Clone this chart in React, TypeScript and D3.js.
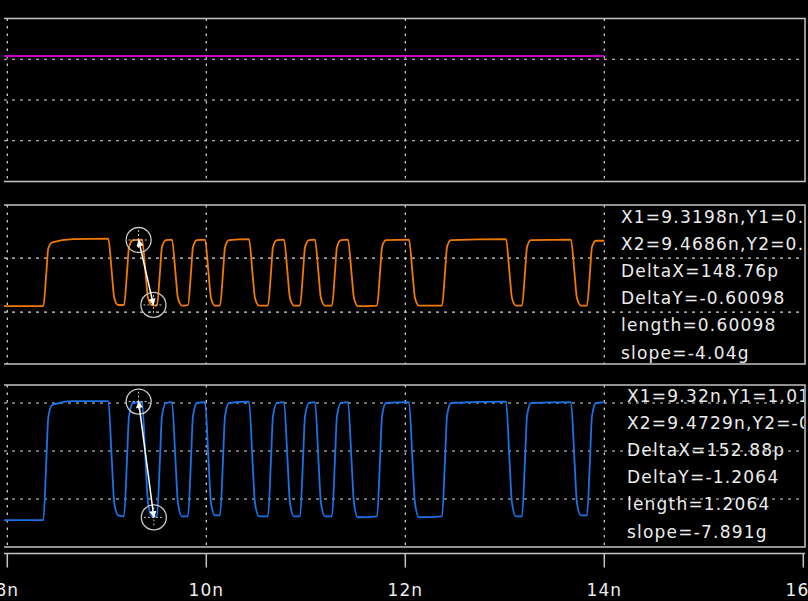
import React, { useEffect, useRef } from 'react';
import * as d3 from 'd3';

// simulation samples (ns) shared by the two traces
const timeNs = [
  7.967,
  8.362, 8.392, 8.412, 8.452, 8.66,
  9.015, 9.05, 9.075, 9.115,
  9.173, 9.203, 9.223, 9.263,
  9.354, 9.389, 9.414, 9.454,
  9.504, 9.534, 9.554, 9.594,
  9.655, 9.69, 9.715, 9.755,
  9.816, 9.846, 9.866, 9.906,
  9.987, 10.022, 10.047, 10.087,
  10.138, 10.168, 10.188, 10.228,
  10.429, 10.464, 10.489, 10.529,
  10.62, 10.65, 10.67, 10.71,
  10.781, 10.816, 10.841, 10.881,
  10.942, 10.972, 10.992, 11.032,
  11.092, 11.127, 11.152, 11.192,
  11.263, 11.293, 11.313, 11.353,
  11.424, 11.459, 11.484, 11.524,
  11.716, 11.746, 11.766, 11.806,
  12.037, 12.072, 12.097, 12.137,
  12.369, 12.399, 12.419, 12.459,
  13.012, 13.047, 13.072, 13.112,
  13.173, 13.203, 13.223, 13.263,
  13.665, 13.7, 13.725, 13.765,
  13.826, 13.856, 13.876, 13.916,
  14.0,
];

// orange trace (middle panel)
const midTrace = [
  0.055,
  0.055, 0.36, 0.59, 0.645, 0.675,
  0.68, 0.37, 0.13, 0.065,
  0.065, 0.365, 0.6, 0.665,
  0.67, 0.365, 0.13, 0.065,
  0.06, 0.365, 0.6, 0.665,
  0.67, 0.365, 0.13, 0.06,
  0.065, 0.365, 0.6, 0.665,
  0.67, 0.365, 0.13, 0.06,
  0.06, 0.365, 0.6, 0.665,
  0.675, 0.365, 0.13, 0.06,
  0.06, 0.365, 0.6, 0.665,
  0.67, 0.365, 0.13, 0.06,
  0.06, 0.365, 0.6, 0.665,
  0.67, 0.365, 0.13, 0.06,
  0.06, 0.365, 0.6, 0.665,
  0.67, 0.365, 0.13, 0.055,
  0.06, 0.365, 0.6, 0.665,
  0.67, 0.365, 0.13, 0.06,
  0.06, 0.365, 0.6, 0.665,
  0.675, 0.365, 0.13, 0.06,
  0.06, 0.365, 0.6, 0.665,
  0.67, 0.365, 0.13, 0.06,
  0.06, 0.365, 0.6, 0.66,
  0.66,
];

// blue trace (bottom panel)
const lowTrace = [
  -0.22,
  -0.22, 0.4, 0.85, 0.98, 1.02,
  1.02, 0.41, -0.04, -0.17,
  -0.18, 0.41, 0.86, 1.0,
  1.01, 0.41, -0.04, -0.18,
  -0.18, 0.41, 0.86, 1.0,
  1.01, 0.41, -0.04, -0.18,
  -0.18, 0.41, 0.86, 1.0,
  1.01, 0.41, -0.04, -0.17,
  -0.17, 0.41, 0.86, 1.0,
  1.015, 0.41, -0.04, -0.18,
  -0.18, 0.41, 0.86, 1.0,
  1.01, 0.41, -0.04, -0.18,
  -0.18, 0.41, 0.86, 1.0,
  1.01, 0.41, -0.04, -0.18,
  -0.18, 0.41, 0.86, 1.0,
  1.01, 0.41, -0.04, -0.19,
  -0.18, 0.41, 0.86, 1.0,
  1.01, 0.41, -0.04, -0.19,
  -0.18, 0.41, 0.86, 1.0,
  1.015, 0.41, -0.04, -0.18,
  -0.18, 0.41, 0.86, 1.0,
  1.01, 0.41, -0.04, -0.17,
  -0.17, 0.41, 0.86, 1.0,
  1.01,
];

// magenta trace (top panel)
const supplyTime = [7.967, 14.0];
const supplyTrace = [1.04, 1.04];

const xTicks = [8, 10, 12, 14, 16];
const xTickLabels = ['8n', '10n', '12n', '14n', '16n'];

// cursor pairs
const midCursorX = [9.3198, 9.4686];
const midCursorY = [0.66693, 0.06595];
const lowCursorX = [9.32, 9.4729];
const lowCursorY = [1.0148, -0.1916];

const midReadout = ['X1=9.3198n,Y1=0.66693', 'X2=9.4686n,Y2=0.06595', 'DeltaX=148.76p', 'DeltaY=-0.60098', 'length=0.60098', 'slope=-4.04g'];
const lowReadout = ['X1=9.32n,Y1=1.0148', 'X2=9.4729n,Y2=-0.1916', 'DeltaX=152.88p', 'DeltaY=-1.2064', 'length=1.2064', 'slope=-7.891g'];

const W = 808;
const H = 601;
const LEFT = 4;
const RIGHT = 805;
const FONT = '"DejaVu Sans", sans-serif';

const App: React.FC = () => {
  const svgRef = useRef<SVGSVGElement>(null);

  useEffect(() => {
    if (!svgRef.current) return;
    const svg = d3.select(svgRef.current);
    svg.selectAll('*').remove();

    const x = d3.scaleLinear().domain([8, 16]).range([7.3, 803.3]);

    const defs = svg.append('defs');
    defs.append('marker')
      .attr('id', 'arrow')
      .attr('viewBox', '0 0 10 10')
      .attr('refX', 9)
      .attr('refY', 5)
      .attr('markerWidth', 9)
      .attr('markerHeight', 7)
      .attr('markerUnits', 'userSpaceOnUse')
      .attr('orient', 'auto-start-reverse')
      .append('path')
      .attr('d', 'M0,0L10,5L0,10z')
      .attr('fill', '#ffffff');

    const panels = [
      { id: 'top', top: 18.5, bottom: 181.5, domain: [-0.5, 1.5], grid: [0, 0.5, 1], t: supplyTime, v: supplyTrace, color: '#c400c4', cx: null, cy: null, text: null, textX: 0, textY: 0 },
      { id: 'mid', top: 205, bottom: 364, domain: [-0.481, 0.991], grid: [0, 0.5], t: timeNs, v: midTrace, color: '#f07a00', cx: midCursorX, cy: midCursorY, text: midReadout, textX: 621, textY: 222.5 },
      { id: 'low', top: 385, bottom: 547, domain: [-0.5, 1.1875], grid: [0, 0.5, 1], t: timeNs, v: lowTrace, color: '#1a72e6', cx: lowCursorX, cy: lowCursorY, text: lowReadout, textX: 627, textY: 401.5 },
    ];

    panels.forEach(p => {
      const y = d3.scaleLinear().domain(p.domain).range([p.bottom, p.top]);

      defs.append('clipPath').attr('id', `clip-${p.id}`)
        .append('rect')
        .attr('x', LEFT).attr('y', p.top)
        .attr('width', RIGHT - LEFT - 1).attr('height', p.bottom - p.top);

      const g = svg.append('g').attr('clip-path', `url(#clip-${p.id})`);

      // grid
      g.selectAll('.vgrid')
        .data(xTicks.slice(0, 4))
        .enter().append('line')
        .attr('x1', d => x(d)).attr('x2', d => x(d))
        .attr('y1', p.top).attr('y2', p.bottom)
        .attr('stroke', '#dcdcdc').attr('stroke-width', 1.2)
        .attr('stroke-dasharray', '2.5,5');
      g.selectAll('.hgrid')
        .data(p.grid)
        .enter().append('line')
        .attr('x1', LEFT).attr('x2', RIGHT)
        .attr('y1', d => y(d)).attr('y2', d => y(d))
        .attr('stroke', '#dcdcdc').attr('stroke-width', 1.2)
        .attr('stroke-dasharray', '3,5');

      // trace
      const pts = p.t.map((t, i) => [t, p.v[i]] as [number, number]);
      const line = d3.line<[number, number]>()
        .x(d => x(d[0]))
        .y(d => y(d[1]))
        .curve(d3.curveMonotoneX);
      g.append('path')
        .datum(pts)
        .attr('d', line)
        .attr('fill', 'none')
        .attr('stroke', p.color)
        .attr('stroke-width', 1.8);

      // readout (clipped at the panel edge, as in the viewer)
      if (p.text) {
        g.selectAll('.readout')
          .data(p.text)
          .enter().append('text')
          .attr('x', p.textX)
          .attr('y', (d, i) => p.textY + i * 27.2)
          .style('font-family', FONT)
          .style('font-size', '17px')
          .style('letter-spacing', '1.2px')
          .style('fill', '#ececec')
          .text(d => d);
      }

      // cursors
      if (p.cx && p.cy) {
        const c = p.cx.map((cx, i) => ({ px: x(cx), py: y(p.cy![i]) }));
        const cur = g.selectAll('.cursor')
          .data(c)
          .enter().append('g');
        cur.append('circle')
          .attr('cx', d => d.px).attr('cy', d => d.py).attr('r', 12.5)
          .attr('fill', 'none').attr('stroke', '#c8c8c8').attr('stroke-width', 1.3);
        cur.append('line')
          .attr('x1', d => d.px - 10).attr('x2', d => d.px + 10)
          .attr('y1', d => d.py).attr('y2', d => d.py)
          .attr('stroke', '#c8c8c8').attr('stroke-dasharray', '2,2');
        cur.append('line')
          .attr('x1', d => d.px).attr('x2', d => d.px)
          .attr('y1', d => d.py - 10).attr('y2', d => d.py + 10)
          .attr('stroke', '#c8c8c8').attr('stroke-dasharray', '2,2');
        g.append('line')
          .attr('x1', c[0].px).attr('y1', c[0].py)
          .attr('x2', c[1].px).attr('y2', c[1].py)
          .attr('stroke', '#ffffff').attr('stroke-width', 1.5)
          .attr('marker-start', 'url(#arrow)')
          .attr('marker-end', 'url(#arrow)');
      }

      // border
      svg.append('path')
        .attr('d', `M${LEFT},${p.top}H${RIGHT}V${p.bottom}H${LEFT}`)
        .attr('fill', 'none')
        .attr('stroke', '#c4c4c4')
        .attr('stroke-width', 1.5);
    });

    // time axis
    const axisY = 553.5;
    svg.append('line')
      .attr('x1', LEFT).attr('x2', RIGHT)
      .attr('y1', axisY).attr('y2', axisY)
      .attr('stroke', '#c4c4c4').attr('stroke-width', 1.5);
    svg.selectAll('.tick')
      .data(xTicks)
      .enter().append('line')
      .attr('x1', d => x(d)).attr('x2', d => x(d))
      .attr('y1', axisY).attr('y2', axisY + 14)
      .attr('stroke', '#c4c4c4').attr('stroke-width', 1.5);
    svg.selectAll('.ticklabel')
      .data(xTicks)
      .enter().append('text')
      .attr('x', d => x(d))
      .attr('y', 596)
      .attr('text-anchor', 'middle')
      .style('font-family', FONT)
      .style('font-size', '17px')
      .style('letter-spacing', '1px')
      .style('fill', '#ececec')
      .text((d, i) => xTickLabels[i]);
  }, []);

  return (
    <div style={{ position: 'fixed', left: 0, top: 0, width: W, height: H, background: '#000' }}>
      <svg ref={svgRef} width={W} height={H} style={{ display: 'block', background: '#000' }}></svg>
    </div>
  );
};

export default App;
